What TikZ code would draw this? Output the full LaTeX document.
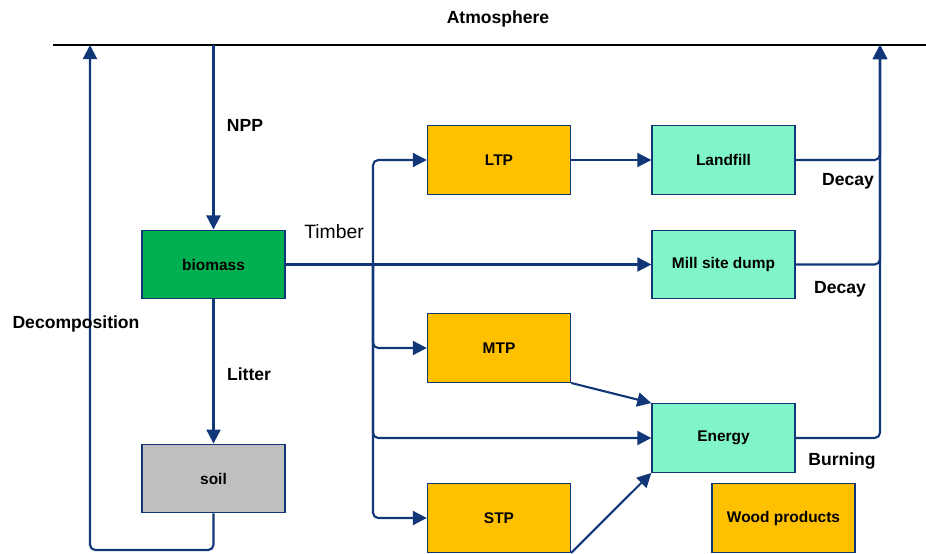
\documentclass[tikz,border=0pt]{standalone}
\usepackage{fontspec}
\setmainfont{Liberation Sans}
\usetikzlibrary{arrows.meta}
\definecolor{flowblue}{RGB}{18,55,120}
\definecolor{biogreen}{RGB}{0,176,80}
\definecolor{soilgray}{RGB}{191,191,191}
\definecolor{prodorange}{RGB}{255,192,0}
\definecolor{sinkaqua}{RGB}{128,245,200}
\begin{document}
\begin{tikzpicture}[x=0.02cm, y=-0.02cm,
	box/.style={draw=flowblue, line width=0.8pt, minimum width=2.86cm, minimum height=1.37cm, inner sep=0pt, font=\fontsize{8.8}{10}\selectfont\bfseries},
	lbl/.style={font=\fontsize{10}{12}\selectfont\bfseries},
	flow/.style={draw=flowblue, line width=1.2pt, rounded corners=3pt, -{Triangle[width=8pt,length=8pt]}},
	link/.style={draw=flowblue, line width=1.2pt, rounded corners=3pt}]
	\useasboundingbox (0,0) rectangle (926,554);
	% atmosphere
	\coordinate (atmL) at (53,45);
	\coordinate (atmR) at (926,45);
	\draw[line width=1.2pt] (atmL) -- (atmR);
	\node[lbl] (atmos) at (498,19) {Atmosphere};
	\coordinate (nppTop) at (213.5,45);
	\coordinate (decTop) at (90,45);
	\coordinate (outTop) at (880,45);
	% boxes
	\node[box, fill=biogreen] (bio) at (213.5,264.5) {biomass};
	\node[box, fill=soilgray] (soil) at (213.5,478.5) {soil};
	\node[box, fill=prodorange] (ltp) at (499,160) {LTP};
	\node[box, fill=prodorange] (mtp) at (499,348) {MTP};
	\node[box, fill=prodorange] (stp) at (499,518) {STP};
	\node[box, fill=sinkaqua] (landfill) at (723.5,160) {Landfill};
	\node[box, fill=sinkaqua] (mill) at (723.5,264.5) {Mill site dump};
	\node[box, fill=sinkaqua] (energy) at (723.5,438) {Energy};
	\node[box, fill=prodorange] (wood) at (783.5,518) {Wood products};
	% forest flows
	\draw[flow] (nppTop) -- (bio.north);
	\draw[flow] (bio.south) -- (soil.north);
	\draw[flow] (soil.south) |- (150,550) -| (decTop);
	\node[lbl] (npp) at (245,125) {NPP};
	\node[lbl] (litter) at (249,374) {Litter};
	\node[lbl] (decomp) at (76,324) {Decomposition};
	% timber harvest
	\coordinate (split) at (373,264.5);
	\draw[link] (bio.east) -- (split);
	\node[font=\fontsize{11}{13}\selectfont] (timber) at (334,232) {Timber};
	\draw[flow] (split) |- (ltp.west);
	\draw[flow] (split) -- (mill.west);
	\draw[flow] (split) |- (mtp.west);
	\draw[flow] (split) |- (energy.west);
	\draw[flow] (split) |- (stp.west);
	\draw[flow] (ltp.east) -- (landfill.west);
	\draw[flow] (mtp.south east) -- (energy.north west);
	\draw[flow] (stp.south east) -- (energy.south west);
	% back to atmosphere
	\draw[flow] (landfill.east) -| (outTop);
	\draw[flow] (mill.east) -| (outTop);
	\draw[flow] (energy.east) -| (outTop);
	\node[lbl] (decay1) at (848,181) {Decay};
	\node[lbl] (decay2) at (840,289) {Decay};
	\node[lbl] (burning) at (842,461) {Burning};
\end{tikzpicture}
\end{document}
